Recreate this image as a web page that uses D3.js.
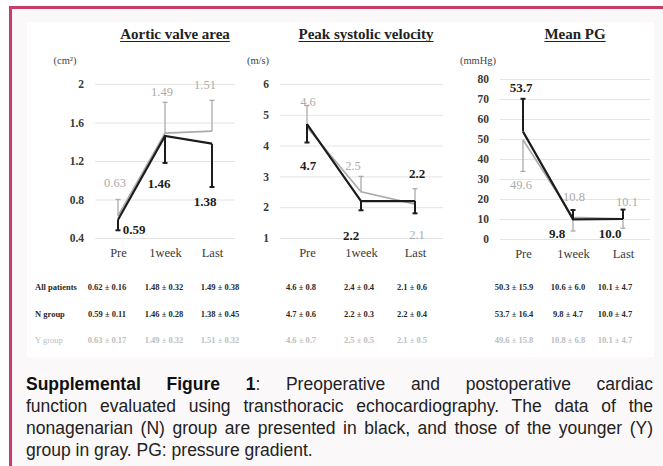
<!DOCTYPE html>
<html>
<head>
  <meta charset="UTF-8">
  <style>
    body { margin: 0; background: #fff; }
    #wrap { position: relative; width: 663px; height: 466px; overflow: hidden; }
    #caption {
      position: absolute; left: 26px; top: 373px; width: 627px;
      font-family: "Liberation Sans", Arial, sans-serif; font-size: 17.5px;
      line-height: 22px; color: #222;
    }
    #caption .j { text-align: justify; text-align-last: justify; white-space: nowrap; }
    #caption b { color: #111; }
  </style>
  <script src="https://d3js.org/d3.v7.min.js"></script>
</head>
<body>
  <div id="wrap">
    <svg id="fig" width="663" height="466"></svg>
    <div id="caption">
      <div class="j"><b>Supplemental Figure 1</b>: Preoperative and postoperative cardiac</div>
      <div class="j">function evaluated using transthoracic echocardiography. The data of the</div>
      <div class="j">nonagenarian (N) group are presented in black, and those of the younger (Y)</div>
      <div>group in gray. PG: pressure gradient.</div>
    </div>
  </div>

  <script>
    // data
    const periods = ["Pre", "1week", "Last"];
    const titles = ["Aortic valve area", "Peak systolic velocity", "Mean PG"];
    const units = ["(cm²)", "(m/s)", "(mmHg)"];
    const rowNames = ["All patients", "N group", "Y group"];

    const avaAll = [0.62, 1.48, 1.49], avaAllSd = [0.16, 0.32, 0.38];
    const avaN = [0.59, 1.46, 1.38],   avaNSd = [0.11, 0.28, 0.45];
    const avaY = [0.63, 1.49, 1.51],   avaYSd = [0.17, 0.32, 0.32];

    const psvAll = [4.6, 2.4, 2.1], psvAllSd = [0.8, 0.4, 0.6];
    const psvN = [4.7, 2.2, 2.2],   psvNSd = [0.6, 0.3, 0.4];
    const psvY = [4.6, 2.5, 2.1],   psvYSd = [0.7, 0.5, 0.5];

    const pgAll = [50.3, 10.6, 10.1], pgAllSd = [15.9, 6.0, 4.7];
    const pgN = [53.7, 9.8, 10.0],    pgNSd = [16.4, 4.7, 4.7];
    const pgY = [49.6, 10.8, 10.1],   pgYSd = [15.8, 6.8, 4.7];

    const avaTicks = [0.4, 0.8, 1.2, 1.6, 2];
    const psvTicks = [1, 2, 3, 4, 5, 6];
    const pgTicks = [0, 10, 20, 30, 40, 50, 60, 70, 80];

    const panels = [
      { all: avaAll, allSd: avaAllSd, n: avaN, nSd: avaNSd, y: avaY, ySd: avaYSd, ticks: avaTicks, dec: 2, nDir: -1 },
      { all: psvAll, allSd: psvAllSd, n: psvN, nSd: psvNSd, y: psvY, ySd: psvYSd, ticks: psvTicks, dec: 1, nDir: -1 },
      { all: pgAll, allSd: pgAllSd, n: pgN, nSd: pgNSd, y: pgY, ySd: pgYSd, ticks: pgTicks, dec: 1, nDir: 1 }
    ];

    // layout for each panel
    const layout = [
      { xr: [118, 212], yr: [238, 84], grid: [95, 235], titleX: 175, unitX: 65, cols: [107, 164, 220],
        nOff: [[16, 10], [-6, 47], [-7, 58]], yOff: [[-3, -33], [-3, -41], [-7, -47]] },
      { xr: [307, 415], yr: [238, 84], grid: [280, 443], titleX: 366, unitX: 258, cols: [301, 359, 412],
        nOff: [[1, 41], [-10, 34], [2, -28]], yOff: [[1, -25], [-8, -26], [2, 31]] },
      { xr: [523, 623], yr: [239, 79], grid: [500, 650], titleX: 575, unitX: 478, cols: [514, 568, 615],
        nOff: [[-2, -44], [-16, 14], [-13, 14]], yOff: [[-2, 45], [1, -21], [4, -17]] }
    ];

    const serif = "'Liberation Serif', 'Times New Roman', serif";
    const black = "#1c1c1c", gray = "#ababab";

    const svg = d3.select("#fig");

    // outer box and inner white panel
    svg.append("rect").attr("x", 9).attr("y", 6).attr("width", 660).attr("height", 470).attr("fill", "#fbf8fa");
    svg.append("line").attr("x1", 10.5).attr("x2", 10.5).attr("y1", 6).attr("y2", 466)
      .attr("stroke", "#c63d66").attr("stroke-width", 3);
    svg.append("line").attr("x1", 9).attr("x2", 663).attr("y1", 7.5).attr("y2", 7.5)
      .attr("stroke", "#c63d66").attr("stroke-width", 3);
    svg.append("rect").attr("x", 27).attr("y", 22).attr("width", 627).attr("height", 335).attr("fill", "#fff");

    panels.forEach((p, i) => {
      const L = layout[i];
      const g = svg.append("g");
      const x = d3.scalePoint().domain(periods).range(L.xr);
      const y = d3.scaleLinear().domain(d3.extent(p.ticks)).range(L.yr);

      // y axis with gridlines
      const ya = g.append("g")
        .attr("transform", `translate(${L.grid[0]},0)`)
        .call(d3.axisLeft(y).tickValues(p.ticks).tickFormat(d3.format("")).tickSize(-(L.grid[1] - L.grid[0])).tickPadding(11));
      ya.select(".domain").remove();
      ya.selectAll(".tick line").attr("stroke", "#e4e4e4");
      ya.selectAll(".tick text").attr("font-family", serif).attr("font-size", 11.5)
        .attr("font-weight", "bold").attr("fill", "#3a3a3a");

      // x axis labels
      const xa = g.append("g")
        .attr("transform", `translate(0,${L.yr[0]})`)
        .call(d3.axisBottom(x).tickSize(0).tickPadding(10));
      xa.select(".domain").remove();
      xa.selectAll(".tick text").attr("font-family", serif).attr("font-size", 12.5).attr("fill", "#3a3a3a");

      // title, underlined
      const t = g.append("text").attr("x", L.titleX).attr("y", 39).attr("text-anchor", "middle")
        .attr("font-family", serif).attr("font-size", 15).attr("font-weight", "bold").attr("fill", "#222")
        .text(titles[i]);
      const tw = t.node().getComputedTextLength();
      g.append("line").attr("x1", L.titleX - tw / 2).attr("x2", L.titleX + tw / 2)
        .attr("y1", 41.5).attr("y2", 41.5).attr("stroke", "#222").attr("stroke-width", 1.1);

      // unit
      g.append("text").attr("x", L.unitX).attr("y", 64).attr("text-anchor", "middle")
        .attr("font-family", serif).attr("font-size", 10.5).attr("fill", "#444").text(units[i]);

      const line = d3.line().x((d, j) => x(periods[j])).y(d => y(d));

      // error bars, N one way and Y the other
      function bars(vals, sds, dir, col, w) {
        vals.forEach((v, j) => {
          const end = y(v + dir * sds[j]);
          g.append("line").attr("x1", x(periods[j])).attr("x2", x(periods[j]))
            .attr("y1", y(v)).attr("y2", end).attr("stroke", col).attr("stroke-width", w);
          g.append("line").attr("x1", x(periods[j]) - 2.5).attr("x2", x(periods[j]) + 2.5)
            .attr("y1", end).attr("y2", end).attr("stroke", col).attr("stroke-width", w);
        });
      }

      bars(p.y, p.ySd, -p.nDir, gray, 1.3);
      g.append("path").attr("d", line(p.y)).attr("fill", "none").attr("stroke", gray).attr("stroke-width", 1.6);
      bars(p.n, p.nSd, p.nDir, black, 2);
      g.append("path").attr("d", line(p.n)).attr("fill", "none").attr("stroke", black).attr("stroke-width", 2.2);

      // value labels
      p.y.forEach((v, j) => {
        g.append("text").attr("x", x(periods[j]) + L.yOff[j][0]).attr("y", y(v) + L.yOff[j][1])
          .attr("dy", "0.35em").attr("text-anchor", "middle").attr("font-family", serif)
          .attr("font-size", 12.5).attr("fill", gray).text(v.toFixed(p.dec));
      });
      p.n.forEach((v, j) => {
        g.append("text").attr("x", x(periods[j]) + L.nOff[j][0]).attr("y", y(v) + L.nOff[j][1])
          .attr("dy", "0.35em").attr("text-anchor", "middle").attr("font-family", serif)
          .attr("font-size", 13).attr("font-weight", "bold").attr("fill", black).text(v.toFixed(p.dec));
      });

      // table below
      const rows = [[p.all, p.allSd, "#2a2a2a"], [p.n, p.nSd, "#2a2a2a"], [p.y, p.ySd, "#bdbdbd"]];
      rows.forEach((r, k) => {
        r[0].forEach((v, j) => {
          g.append("text").attr("x", L.cols[j]).attr("y", 290 + k * 26.5).attr("text-anchor", "middle")
            .attr("font-family", serif).attr("font-size", 8.5).attr("font-weight", "bold").attr("fill", r[2])
            .text(v.toFixed(p.dec) + " ± " + r[1][j].toFixed(p.dec));
        });
      });
    });

    rowNames.forEach((nm, k) => {
      svg.append("text").attr("x", 35).attr("y", 290 + k * 26.5)
        .attr("font-family", serif).attr("font-size", 8.5).attr("font-weight", k < 2 ? "bold" : "normal")
        .attr("fill", k < 2 ? "#2a2a2a" : "#bdbdbd").text(nm);
    });
  </script>
</body>
</html>
